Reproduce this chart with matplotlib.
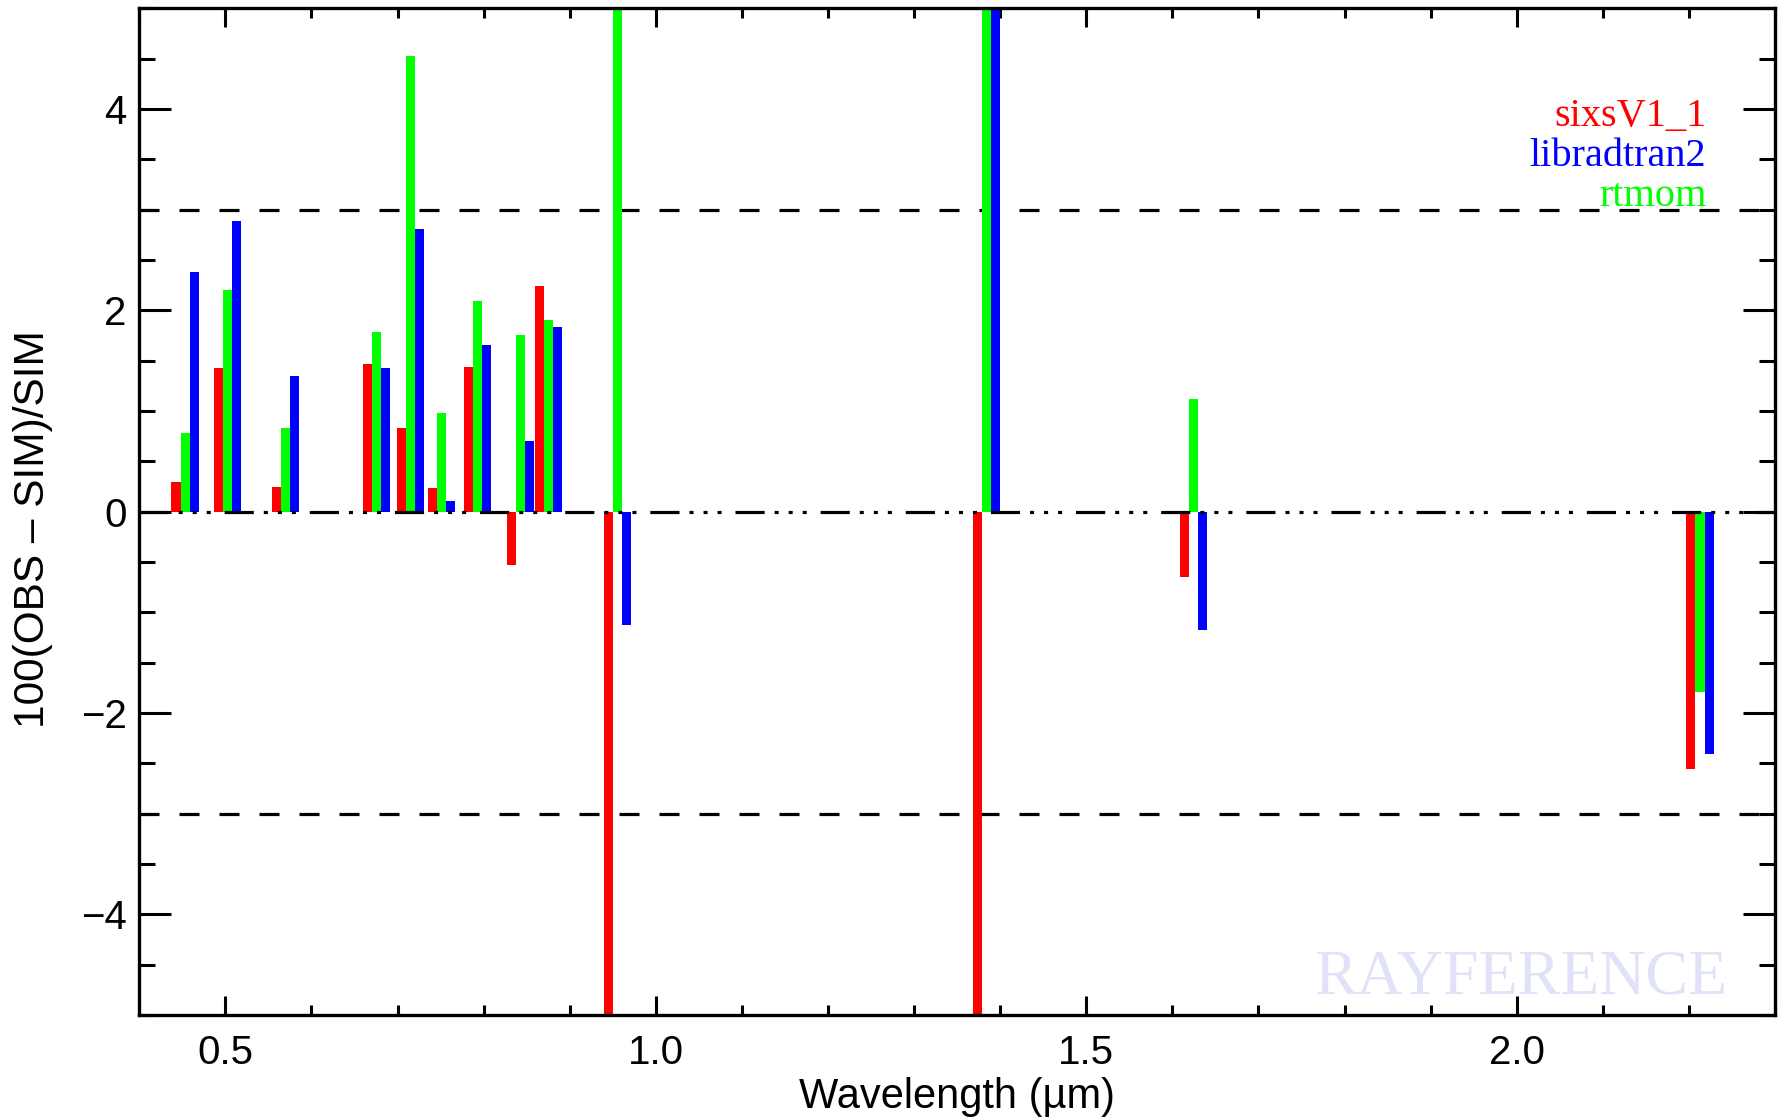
import matplotlib
matplotlib.use("Agg")
from matplotlib import pyplot as plt
from matplotlib.ticker import MultipleLocator

# band centres (um) and relative differences (%), off-scale bars are clipped
wavelength = [0.4427, 0.4924, 0.5598, 0.6646, 0.7041, 0.7405, 0.7828,
              0.8328, 0.8647, 0.9451, 1.3735, 1.6137, 2.2024]
sixs = [0.29, 1.43, 0.24, 1.47, 0.83, 0.23, 1.44, -0.53, 2.24, -7.0, -7.0, -0.65, -2.56]
rtmom = [0.78, 2.20, 0.83, 1.78, 4.53, 0.98, 2.09, 1.75, 1.90, 7.0, 7.0, 1.12, -1.79]
librad = [2.38, 2.89, 1.35, 1.43, 2.81, 0.11, 1.66, 0.70, 1.83, -1.13, 7.0, -1.18, -2.41]
names = ["sixsV1_1", "libradtran2", "rtmom"]
colors = ["#ff0000", "#0000ff", "#00ff00"]

plt.rcParams['font.family'] = ['Liberation Sans', 'DejaVu Sans']
plt.rcParams['lines.scale_dashes'] = False

fig = plt.figure(figsize=(17.83, 11.18), dpi=100)
ax = fig.add_axes([0.0781, 0.0921, 0.9955 - 0.0781, 0.9926 - 0.0921])

w = 0.0105
ax.axhline(3, color="black", lw=2.3, ls=(0, (14.4, 14.4)), zorder=1)
ax.axhline(-3, color="black", lw=2.3, ls=(0, (14.4, 14.4)), zorder=1)

ax.bar([x for x in wavelength], sixs, width=w, color="#ff0000", zorder=2)
ax.bar([x + w for x in wavelength], rtmom, width=w, color="#00ff00", zorder=2)
ax.bar([x + 2 * w for x in wavelength], librad, width=w, color="#0000ff", zorder=2)

ax.axhline(0, color="black", lw=2.3,
           ls=(0, (21, 7.2, 2.9, 7.2, 2.9, 7.2, 2.9, 10)), zorder=3)

ax.set_xlim(0.4, 2.3)
ax.set_ylim(-5, 5)
ax.xaxis.set_major_locator(MultipleLocator(0.5))
ax.xaxis.set_minor_locator(MultipleLocator(0.1))
ax.yaxis.set_major_locator(MultipleLocator(2))
ax.yaxis.set_minor_locator(MultipleLocator(0.5))
ax.xaxis.set_major_formatter(plt.FormatStrFormatter('%.1f'))

ax.tick_params(axis="both", which="both", direction="in", top=True, right=True,
               width=2.2, color="black", labelsize=29)
ax.tick_params(axis="x", which="major", length=13.7, pad=14)
ax.tick_params(axis="x", which="minor", length=7.2)
ax.tick_params(axis="y", which="major", length=23, pad=9)
ax.tick_params(axis="y", which="minor", length=11.5)
for sp in ax.spines.values():
    sp.set_linewidth(2.4)

ax.set_xlabel("Wavelength (\u00b5m)", fontsize=30, labelpad=3)
ax.set_ylabel("100(OBS \u2013 SIM)/SIM", fontsize=30.5)
ax.yaxis.set_label_coords(-0.053, 0.483)

# model names, right aligned in the top right corner
for i in range(3):
    ax.text(0.958, 0.883 - 0.0395 * i, names[i], color=colors[i], transform=ax.transAxes,
            ha="right", va="baseline", fontsize=29, family="Liberation Serif")

ax.text(0.971, 0.021, "RAYFERENCE", color="#e0e2f7", transform=ax.transAxes,
        ha="right", va="baseline", fontsize=46, family="Liberation Serif", zorder=0)

fig.savefig("out.png", dpi=100)
